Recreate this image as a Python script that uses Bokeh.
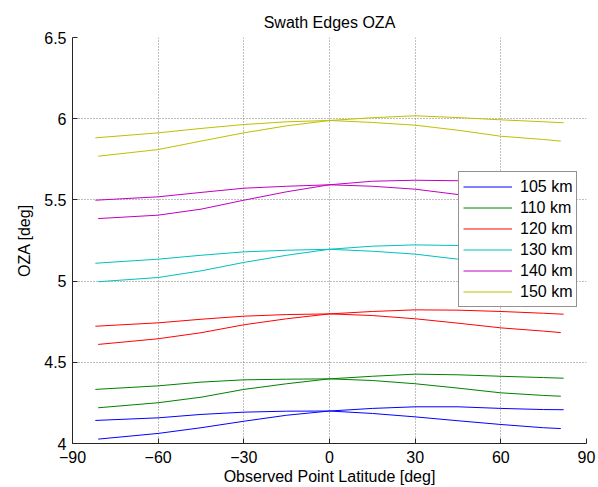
from bokeh.plotting import figure
from bokeh.models import Range1d, FixedTicker, Legend, LegendItem
from bokeh.embed import file_html
from bokeh.resources import INLINE

# ---- data ----
# curve 1: starts low at the south end, peaks north of the equator
lat_1 = [-81, -60, -45, -30, -15, 0, 15, 30, 45, 60, 75, 82]
# curve 2: starts high at the south end, peaks near the equator
lat_2 = [-82, -60, -45, -30, -15, 0, 15, 30, 45, 60, 75, 81]

labels = ["105 km", "110 km", "120 km", "130 km", "140 km", "150 km"]
colors = ["#0000ff", "#008000", "#ff0000", "#00bfbf", "#bf00bf", "#bfbf00"]

oza_105_1 = [4.027, 4.062, 4.097, 4.137, 4.174, 4.200, 4.216, 4.226, 4.226, 4.216, 4.209, 4.208]
oza_105_2 = [4.142, 4.158, 4.179, 4.193, 4.199, 4.200, 4.185, 4.164, 4.140, 4.117, 4.097, 4.092]
oza_110_1 = [4.220, 4.251, 4.285, 4.333, 4.368, 4.398, 4.414, 4.427, 4.423, 4.414, 4.406, 4.402]
oza_110_2 = [4.333, 4.355, 4.378, 4.392, 4.396, 4.398, 4.388, 4.368, 4.341, 4.312, 4.296, 4.291]
oza_120_1 = [4.610, 4.645, 4.682, 4.731, 4.768, 4.798, 4.813, 4.823, 4.821, 4.813, 4.802, 4.796]
oza_120_2 = [4.722, 4.743, 4.765, 4.784, 4.794, 4.798, 4.788, 4.768, 4.741, 4.712, 4.692, 4.683]
oza_130_1 = [4.996, 5.022, 5.063, 5.115, 5.159, 5.196, 5.215, 5.223, 5.219, 5.207, 5.197, 5.192]
oza_130_2 = [5.110, 5.135, 5.159, 5.180, 5.190, 5.196, 5.184, 5.166, 5.135, 5.102, 5.080, 5.072]
oza_140_1 = [5.385, 5.406, 5.443, 5.498, 5.550, 5.593, 5.615, 5.621, 5.618, 5.605, 5.594, 5.589]
oza_140_2 = [5.498, 5.519, 5.546, 5.572, 5.584, 5.593, 5.584, 5.566, 5.533, 5.496, 5.475, 5.466]
oza_150_1 = [5.769, 5.810, 5.862, 5.913, 5.956, 5.989, 6.006, 6.018, 6.007, 5.993, 5.981, 5.975]
oza_150_2 = [5.882, 5.913, 5.940, 5.964, 5.981, 5.989, 5.977, 5.960, 5.929, 5.892, 5.872, 5.862]

series_1 = [oza_105_1, oza_110_1, oza_120_1, oza_130_1, oza_140_1, oza_150_1]
series_2 = [oza_105_2, oza_110_2, oza_120_2, oza_130_2, oza_140_2, oza_150_2]

x_ticks = [-90, -60, -30, 0, 30, 60, 90]
y_ticks = [4, 4.5, 5, 5.5, 6, 6.5]
y_tick_labels = ["4", "4.5", "5", "5.5", "6", "6.5"]

FONT = "Liberation Sans"
FS = "16px"

p = figure(width=598, height=487, output_backend="svg", toolbar_location=None,
           title="Swath Edges OZA",
           x_range=Range1d(-90, 90), y_range=Range1d(4, 6.5),
           min_border_left=72, min_border_right=12, min_border_top=37, min_border_bottom=44)

p.title.align = "center"
p.title.text_font = FONT
p.title.text_font_size = FS
p.title.text_font_style = "normal"
p.title.text_color = "black"
p.title.standoff = 14
p.outline_line_color = None
p.background_fill_color = "white"
p.border_fill_color = "white"

items = []
for lab, col, y1, y2 in zip(labels, colors, series_1, series_2):
    r1 = p.line(lat_1, y1, line_color=col, line_width=1)
    r2 = p.line(lat_2, y2, line_color=col, line_width=1)
    items.append(LegendItem(label=lab, renderers=[r1]))

for ax in (p.xaxis[0], p.yaxis[0]):
    ax.major_label_text_font = FONT
    ax.major_label_text_font_size = FS
    ax.major_label_text_color = "black"
    ax.axis_label_text_font = FONT
    ax.axis_label_text_font_size = FS
    ax.axis_label_text_font_style = "normal"
    ax.axis_label_text_color = "black"
    ax.axis_line_color = "#262626"
    ax.major_tick_line_color = "#262626"
    ax.major_tick_in = 5
    ax.major_tick_out = 0
    ax.minor_tick_in = 0
    ax.minor_tick_out = 0

p.xaxis.ticker = FixedTicker(ticks=x_ticks)
p.yaxis.ticker = FixedTicker(ticks=y_ticks)
p.yaxis.major_label_overrides = {t: l for t, l in zip(y_ticks, y_tick_labels)}
p.xaxis.axis_label = "Observed Point Latitude [deg]"
p.yaxis.axis_label = "OZA [deg]"
p.xaxis.major_label_standoff = 7
p.xaxis.axis_label_standoff = 2
p.yaxis.major_label_standoff = 6
p.yaxis.axis_label_standoff = 8

for g in (p.xgrid[0], p.ygrid[0]):
    g.grid_line_color = "#808080"
    g.grid_line_dash = "1 2"
    g.grid_line_width = 1

legend = Legend(items=items, location=(386, 136))
legend.label_text_font = FONT
legend.label_text_font_size = FS
legend.label_text_color = "black"
legend.glyph_width = 49
legend.glyph_height = 21
legend.label_height = 21
legend.label_standoff = 8
legend.spacing = 0
legend.padding = 4
legend.margin = 0
legend.border_line_color = "#262626"
legend.border_line_width = 1
legend.background_fill_color = "white"
legend.background_fill_alpha = 1
p.add_layout(legend, "center")

open("out.html", "w").write(file_html(p, INLINE))
